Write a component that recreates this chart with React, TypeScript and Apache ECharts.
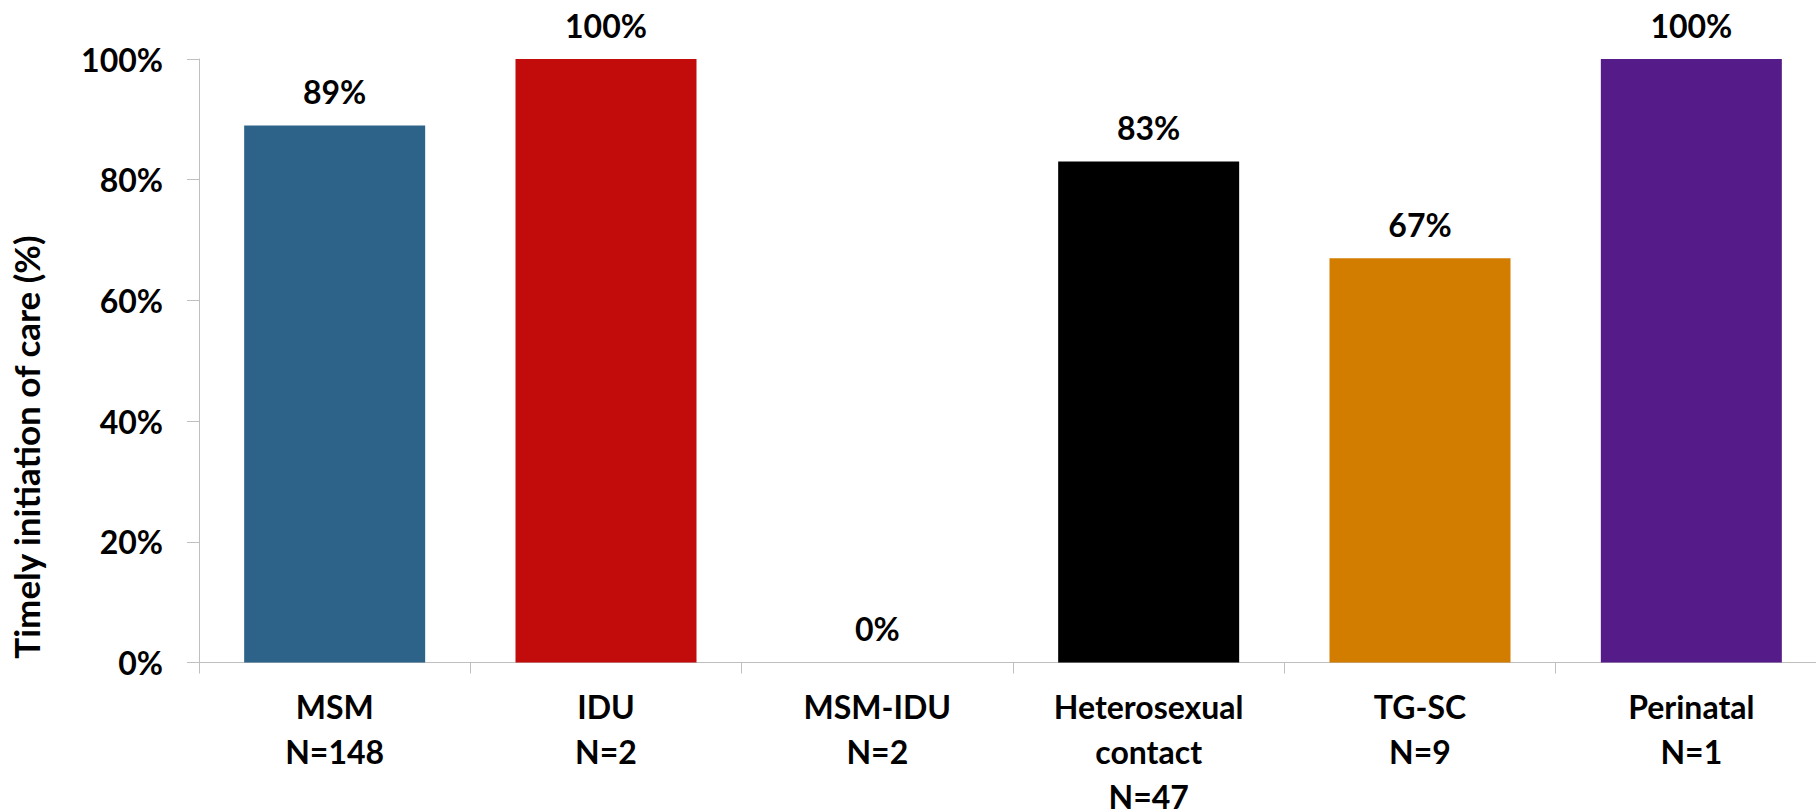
import React, { useEffect, useRef } from "react";
import * as echarts from "echarts";

const categories = ["MSM", "IDU", "MSM-IDU", "Heterosexual\ncontact", "TG-SC", "Perinatal"];
const counts = [148, 2, 2, 47, 9, 1];
const values = [89, 100, 0, 83, 67, 100];
const colors = ["#2E6389", "#C20B0B", "#7F7F7F", "#000000", "#D27C00", "#541B89"];
const yTicks = [0, 20, 40, 60, 80, 100];
const yTitle = "Timely initiation of care (%)";

const FONT = "Lato, 'Open Sans', sans-serif";

export default function App() {
  const ref = useRef<HTMLDivElement>(null);
  useEffect(() => {
    if (!ref.current) return;
    const chart = echarts.init(ref.current, null, { renderer: "svg" });
    const labels = categories.map((c, i) => `${c}\nN=${counts[i]}`);
    chart.setOption({
      animation: false,
      backgroundColor: "#ffffff",
      grid: {
        left: 199,
        top: 59,
        width: 1628,
        height: 603.5,
        containLabel: false,
        outerBoundsMode: "none",
      },
      xAxis: {
        type: "category",
        data: labels,
        boundaryGap: true,
        axisLine: { show: true, lineStyle: { color: "#BFBFBF", width: 1 } },
        axisTick: { show: true, length: 11, lineStyle: { color: "#BFBFBF", width: 1 } },
        axisLabel: {
          interval: 0,
          margin: 21,
          color: "#000",
          fontFamily: FONT,
          fontWeight: "bold",
          fontSize: 32,
          lineHeight: 45,
        },
      },
      yAxis: {
        type: "value",
        min: yTicks[0],
        max: yTicks[yTicks.length - 1],
        interval: 20,
        axisLine: { show: true, lineStyle: { color: "#BFBFBF", width: 1 } },
        axisTick: { show: true, length: 12, lineStyle: { color: "#BFBFBF", width: 1 } },
        splitLine: { show: false },
        axisLabel: {
          margin: 36,
          formatter: "{value}%",
          color: "#000",
          fontFamily: FONT,
          fontWeight: "bold",
          fontSize: 32,
        },
      },
      series: [
        {
          type: "bar",
          barWidth: 181,
          data: values.map((v, i) => ({ value: v, itemStyle: { color: colors[i] } })),
          label: {
            show: true,
            position: "top",
            distance: 18,
            formatter: "{c}%",
            color: "#000",
            fontFamily: FONT,
            fontWeight: "bold",
            fontSize: 32,
          },
        },
      ],
      graphic: [
        {
          type: "text",
          x: 26,
          y: 447,
          rotation: Math.PI / 2,
          style: {
            text: yTitle,
            fill: "#000",
            fontFamily: FONT,
            fontWeight: "bold",
            fontSize: 35,
            align: "center",
            verticalAlign: "middle",
          },
        },
      ],
    });
    return () => chart.dispose();
  }, []);
  return (
    <div
      ref={ref}
      style={{ position: "absolute", left: 0, top: 0, width: 1816, height: 811, background: "#fff" }}
    />
  );
}
